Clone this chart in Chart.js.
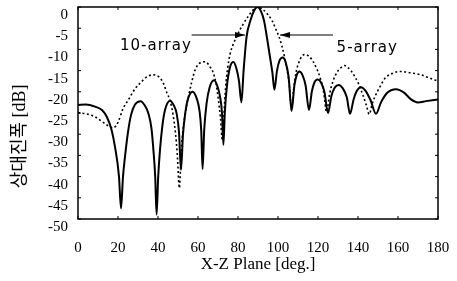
<!DOCTYPE html>
<html><head><meta charset="utf-8">
<script src="https://cdn.jsdelivr.net/npm/chart.js@4"></script>
<style>html,body{margin:0;padding:0;background:#fff}</style>
</head><body>
<canvas id="c" width="457" height="281"></canvas>
<script>
// ---- data ----
const seriesNames = ['10-array', '5-array'];

const deg10 = [0,4,8.5,12,14.5,16.8,18.5,20.5,21.5,22.5,23.5,25,26.5,28.5,31.3,33.5,35.2,36.7,37.7,38.6,39.3,40.1,41,42.2,43.5,46,48,49.3,50.5,51.5,52.5,53.5,54.8,57.3,59.3,60.7,61.6,62.3,63.1,64.3,65.8,68,69.8,71,72,72.7,73.4,74.5,76,77.7,79.2,80.5,81.7,82.8,84.3,86.2,88,89.7,91.3,93,94.4,95.8,97.2,98.2,99.5,100.8,102.3,103.8,105.3,106.8,108.2,109.4,110.7,112.2,113.8,115.5,116.9,118.2,119.8,121.5,123.2,125,126.7,128.4,130.4,132.4,134.4,136,137.8,139.5,141.5,143.7,146.3,149,151.5,154.5,159,163,166.5,170,174,180];
const db10 = [-23.1,-23.0,-23.5,-24.3,-26,-29,-33,-40,-47.5,-40,-35.3,-29.5,-25.5,-23,-22.2,-23.3,-25.1,-28.5,-33.7,-40,-49,-40,-33.7,-28,-24.3,-22.1,-23.3,-25.1,-29.5,-38.4,-30,-25.5,-22,-20,-21.5,-24.3,-29,-38.2,-29,-22.7,-19,-17.3,-18.8,-21.1,-25,-32.5,-25,-18.5,-14.2,-13,-14.5,-17.5,-22.5,-15,-7,-3.2,-0.9,0,-0.8,-3.2,-7,-11.2,-15.5,-19.5,-15,-12.6,-11.9,-13,-16.5,-24.5,-18.5,-16,-15.2,-16,-18.5,-24.3,-20,-17.8,-17.1,-17.8,-20,-25,-21,-19,-18.4,-19.2,-21.3,-25.2,-21.8,-19.7,-18.9,-19.7,-22,-25.2,-22.5,-20.3,-19.4,-20.2,-21.8,-22.5,-22.2,-21.8];

const deg5 = [0,4,8.5,12,15,17.7,19,20.2,22.5,25.2,28.5,31.8,34.7,37.7,40.5,42.7,44.5,46,47.7,48.8,49.6,50.7,51.6,52.7,54,55.2,56.8,58.5,60.5,62.7,64.8,66.5,67.7,69,70.2,71.2,72.2,73,73.8,74.8,76,77.6,79.3,82,85,87.5,90,92.5,95,97,99,100.5,102,103.5,104.8,105.8,106.8,107.8,109,110.5,112,113.5,115.5,117.5,119.5,121.3,122.8,124.3,125.8,127.5,129.5,131.5,133.3,135,136.8,138.5,140.2,142.7,144.2,145.6,147,148.5,151,153.5,157,161.5,166,171.5,176,180];
const db5 = [-24.9,-25.2,-25.9,-27,-28,-28.5,-28,-27,-24,-21.9,-19.3,-17.6,-16.4,-16,-16.5,-18,-20.3,-22,-25.9,-30,-34.5,-42.7,-34,-28.2,-24,-21.2,-17.8,-14.9,-13.4,-12.9,-13.3,-14.5,-15.6,-18,-21.9,-26,-31.5,-25,-19,-14.5,-11.2,-8.8,-7,-4.5,-2.3,-0.7,0,-0.6,-1.8,-3.2,-5.3,-7,-9.3,-12.3,-15.5,-19,-24.3,-19.5,-15.5,-13,-11.6,-11.2,-11.6,-12.8,-14.7,-17,-20,-24.7,-20.5,-17.5,-15.4,-14.3,-13.8,-14.3,-15.2,-16.5,-18,-21.1,-23.2,-25.3,-23,-21.1,-18.8,-16.8,-15.7,-15.2,-15.5,-16,-16.8,-17.5];

const xTickValues = [0,20,40,60,80,100,120,140,160,180];
const yTickValues = [0,-5,-10,-15,-20,-25,-30,-35,-40,-45,-50];
const xTitle = 'X-Z Plane [deg.]';
const yTitle = '상대진폭 [dB]';

// annotation anchors in data units (deg, dB)
const notes = [
  {text: seriesNames[0], tx: 21, ty: -10.1, from: 56.8, to: 83.5, ay: -6.6},
  {text: seriesNames[1], tx: 129.3, ty: -10.5, from: 127.5, to: 101, ay: -6.6}
];

const pts = (xs, ys) => xs.map((x, i) => ({x, y: ys[i]}));

const framePlugin = {
  id: 'frame',
  afterDraw(chart) {
    const {ctx, chartArea: a, scales} = chart;
    ctx.save();
    ctx.strokeStyle = '#000';
    ctx.lineWidth = 1.5;
    ctx.strokeRect(a.left, a.top, a.right - a.left, a.bottom - a.top);
    ctx.lineWidth = 1;
    yTickValues.forEach(v => {
      const y = scales.y.getPixelForValue(v);
      ctx.beginPath();
      ctx.moveTo(a.left, y); ctx.lineTo(a.left + 3, y);
      ctx.moveTo(a.right, y); ctx.lineTo(a.right - 3, y);
      ctx.stroke();
    });
    xTickValues.forEach(v => {
      const x = scales.x.getPixelForValue(v);
      ctx.beginPath();
      ctx.moveTo(x, a.bottom); ctx.lineTo(x, a.bottom - 3);
      ctx.moveTo(x, a.top); ctx.lineTo(x, a.top + 3);
      ctx.stroke();
    });
    // y axis title (rotated), placed beside the lower part of the axis as in the source
    ctx.save();
    ctx.fillStyle = '#000';
    ctx.font = '18px "Liberation Serif", "Noto Sans CJK KR"';
    ctx.textAlign = 'center';
    ctx.textBaseline = 'middle';
    ctx.translate(20, scales.y.getPixelForValue(-30.5));
    ctx.rotate(-Math.PI / 2);
    ctx.fillText(yTitle, 0, 0);
    ctx.restore();
    // annotations
    ctx.fillStyle = '#000';
    ctx.font = '15px "DejaVu Sans"';
    try { ctx.letterSpacing = '1px'; } catch (e) {}
    ctx.textBaseline = 'alphabetic';
    ctx.textAlign = 'left';
    notes.forEach(n => {
      const tx = scales.x.getPixelForValue(n.tx), ty = scales.y.getPixelForValue(n.ty);
      ctx.fillText(n.text, tx, ty);
      const x0 = scales.x.getPixelForValue(n.from), x1 = scales.x.getPixelForValue(n.to);
      const y = scales.y.getPixelForValue(n.ay);
      ctx.lineWidth = 1.2;
      ctx.beginPath(); ctx.moveTo(x0, y); ctx.lineTo(x1, y); ctx.stroke();
      const dir = Math.sign(x1 - x0);
      ctx.beginPath();
      ctx.moveTo(x1, y);
      ctx.lineTo(x1 - dir * 10, y - 3);
      ctx.lineTo(x1 - dir * 10, y + 3);
      ctx.closePath(); ctx.fill();
    });
    ctx.restore();
  }
};

new Chart(document.getElementById('c'), {
  type: 'line',
  data: {
    datasets: [
      {label: seriesNames[0], data: pts(deg10, db10), borderColor: '#000', borderWidth: 2,
       pointRadius: 0, cubicInterpolationMode: 'monotone', fill: false},
      {label: seriesNames[1], data: pts(deg5, db5), borderColor: '#000', borderWidth: 1.6,
       borderDash: [2, 2.5], pointRadius: 0, cubicInterpolationMode: 'monotone', fill: false}
    ]
  },
  options: {
    responsive: false, animation: false, devicePixelRatio: 1,
    layout: {padding: {left: 0, right: 19, top: 7, bottom: 0}},
    plugins: {legend: {display: false}, tooltip: {enabled: false}},
    scales: {
      x: {
        type: 'linear', min: 0, max: 180,
        afterBuildTicks: s => { s.ticks = xTickValues.map(v => ({value: v})); },
        afterFit: s => { s.height = 62; s.paddingLeft = 0; s.paddingRight = 0; },
        grid: {display: false, drawTicks: false}, border: {display: false},
        ticks: {color: '#000', padding: 20, autoSkip: false, maxRotation: 0,
                font: {family: '"Liberation Serif"', size: 15}},
        title: {display: true, text: xTitle, color: '#000',
                font: {family: '"Liberation Serif"', size: 17}, padding: {top: 0, bottom: 6}}
      },
      y: {
        type: 'linear', min: -50, max: 0,
        afterBuildTicks: s => { s.ticks = yTickValues.map(v => ({value: v})); },
        afterFit: s => { s.width = 78; s.paddingTop = 0; s.paddingBottom = 0; },
        grid: {display: false, drawTicks: false}, border: {display: false},
        ticks: {color: '#000', padding: 10, labelOffset: 8, autoSkip: false,
                font: {family: '"Liberation Serif"', size: 15}},
        title: {display: false}
      }
    }
  },
  plugins: [framePlugin]
});
</script>
</body></html>
